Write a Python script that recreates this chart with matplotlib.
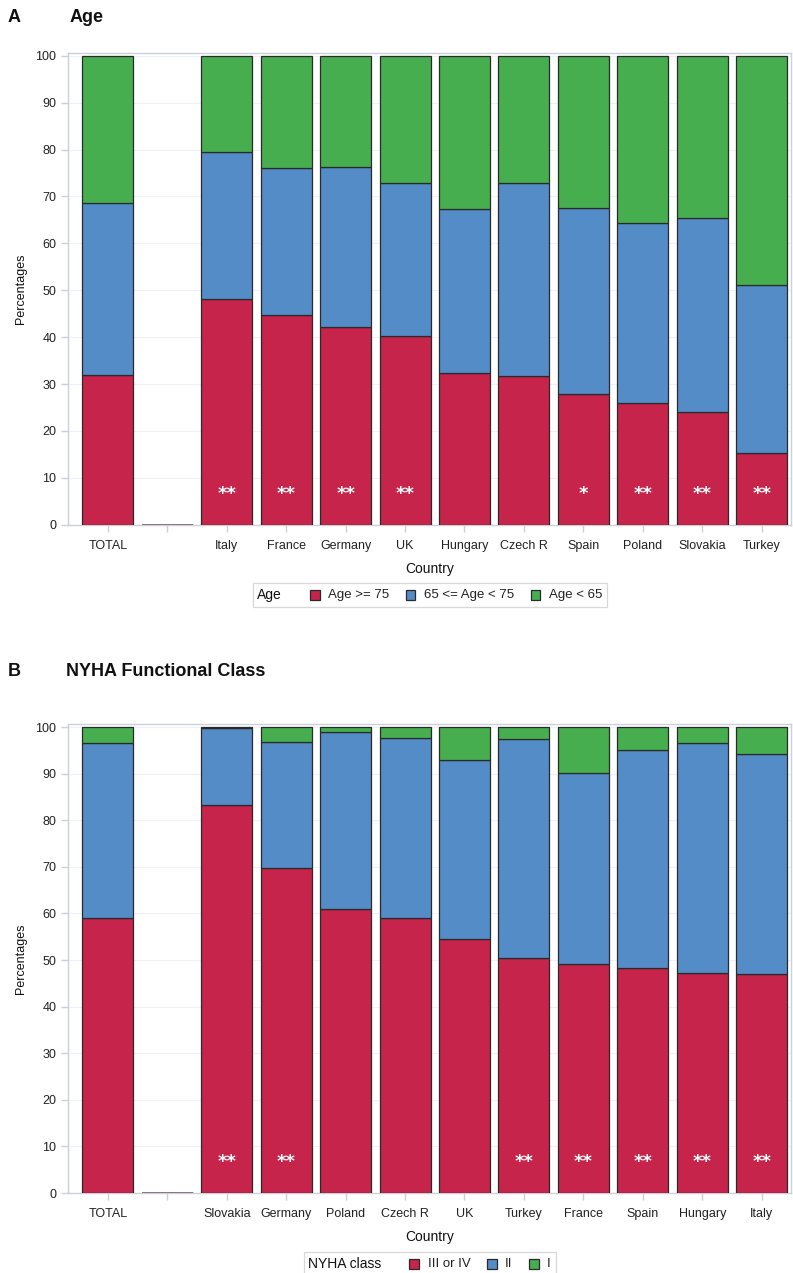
import matplotlib
matplotlib.use("Agg")
import matplotlib.pyplot as plt
from matplotlib.patches import Rectangle
from matplotlib.offsetbox import (AnchoredOffsetbox, TextArea, DrawingArea,
                                  HPacker)

plt.rcParams["font.family"] = ["Liberation Sans", "DejaVu Sans"]

# ---- Panel A: age groups by country (percent of patients) ----
age_countries = ["TOTAL", "", "Italy", "France", "Germany", "UK", "Hungary",
                 "Czech R", "Spain", "Poland", "Slovakia", "Turkey"]
age_75_plus = [31.9, 0, 48.1, 44.7, 42.2, 40.3, 32.3, 31.7, 27.8, 25.9, 24.0, 15.3]
age_65_75 = [36.6, 0, 31.4, 31.3, 34.0, 32.5, 35.1, 41.1, 39.8, 38.5, 41.4, 35.8]
age_under_65 = [31.5, 0, 20.5, 24.0, 23.8, 27.2, 32.6, 27.2, 32.4, 35.6, 34.6, 48.9]
age_signif = ["", "", "**", "**", "**", "**", "", "", "*", "**", "**", "**"]
age_labels = ["Age >= 75", "65 <= Age < 75", "Age < 65"]

# ---- Panel B: NYHA functional class by country (percent of patients) ----
nyha_countries = ["TOTAL", "", "Slovakia", "Germany", "Poland", "Czech R", "UK",
                  "Turkey", "France", "Spain", "Hungary", "Italy"]
nyha_3_4 = [59.0, 0, 83.2, 69.8, 60.9, 59.1, 54.6, 50.4, 49.2, 48.2, 47.3, 47.0]
nyha_2 = [37.5, 0, 16.5, 27.0, 38.0, 38.5, 38.3, 47.0, 41.0, 46.8, 49.3, 47.3]
nyha_1 = [3.5, 0, 0.3, 3.2, 1.1, 2.4, 7.1, 2.6, 9.8, 5.0, 3.4, 5.7]
nyha_signif = ["", "", "**", "**", "", "", "", "**", "**", "**", "**", "**"]
nyha_labels = ["III or IV", "II", "I"]

COLORS = ["#C6244A", "#538CC6", "#46AE4F"]
EDGE = "#2a2a2a"
SPINE = "#c9d1da"
GRID = "#eef2f7"

fig = plt.figure(figsize=(7.93, 12.73), dpi=100)


def legend_box(ax, title, labels, y_anchor):
    """Single-row legend with its title placed to the left of the entries."""
    entries = []
    for col, lab in zip(COLORS, labels):
        da = DrawingArea(7, 7, 0, 0)
        da.add_artist(Rectangle((0, 0), 7, 7, facecolor=col, edgecolor=EDGE,
                                linewidth=0.9))
        txt = TextArea(lab, textprops=dict(fontsize=9.5, color="#222222"))
        entries.append(HPacker(children=[da, txt], sep=6, align="center", pad=0))
    row = HPacker(children=entries, sep=12, align="center", pad=0)
    head = TextArea(title, textprops=dict(fontsize=10, color="#111111"))
    box = HPacker(children=[head, row], sep=20, align="center", pad=0)
    anch = AnchoredOffsetbox(loc="upper center", child=box, pad=0.35,
                             borderpad=0, frameon=True,
                             bbox_to_anchor=(0.5, y_anchor),
                             bbox_transform=ax.transAxes)
    anch.patch.set_edgecolor("#d8d8d8")
    anch.patch.set_linewidth(0.9)
    anch.patch.set_boxstyle("square", pad=0)
    ax.add_artist(anch)


def stacked_panel(rect, cats, series, labels, signif, legend_title, y_leg):
    ax = fig.add_axes(rect)
    x = list(range(len(cats)))
    bottom = [0.0] * len(cats)
    for vals, col, lab in zip(series, COLORS, labels):
        ax.bar(x, vals, width=0.86, bottom=bottom, color=col, edgecolor=EDGE,
               linewidth=0.9, label=lab, zorder=3)
        bottom = [b + v for b, v in zip(bottom, vals)]
    # placeholder slot drawn as a flat bar on the baseline
    for i, c in enumerate(cats):
        if c == "":
            ax.plot([i - 0.43, i + 0.43], [0, 0], color="#8a6a70", lw=1.2,
                    zorder=4, solid_capstyle="butt")
    for i, s in enumerate(signif):
        if s:
            ax.text(i, 6.6, s, color="white", ha="center", va="center",
                    fontsize=13, fontweight="bold", family="DejaVu Sans",
                    zorder=5)
    ax.set_xlim(-0.67, 11.5)
    ax.set_ylim(0, 100.6)
    ax.set_yticks(range(0, 101, 10))
    ax.set_xticks(x)
    ax.set_xticklabels(cats)
    ax.yaxis.grid(True, color=GRID, lw=0.8, zorder=0)
    ax.set_axisbelow(True)
    for sp in ax.spines.values():
        sp.set_color(SPINE)
        sp.set_linewidth(1.0)
    ax.tick_params(axis="both", colors=SPINE, labelcolor="#222222",
                   labelsize=9, length=5, width=1.0, direction="out")
    ax.tick_params(axis="x", pad=6)
    ax.set_xlabel("Country", fontsize=10, color="#111111", labelpad=7)
    ax.set_ylabel("Percentages", fontsize=9, color="#111111", labelpad=6)
    legend_box(ax, legend_title, labels, y_leg)
    return ax


ax_a = stacked_panel([0.0858, 0.5878, 0.9122, 0.3706], age_countries,
                     [age_75_plus, age_65_75, age_under_65], age_labels,
                     age_signif, "Age", -0.124)
ax_b = stacked_panel([0.0858, 0.0628, 0.9122, 0.3683], nyha_countries,
                     [nyha_3_4, nyha_2, nyha_1], nyha_labels,
                     nyha_signif, "NYHA class", -0.126)

fig.text(8 / 793, 1 - 18 / 1273, "A", fontsize=13, fontweight="bold",
         va="center", ha="left", color="#111111")
fig.text(70 / 793, 1 - 18 / 1273, "Age", fontsize=13, fontweight="bold",
         va="center", ha="left", color="#111111")
fig.text(8 / 793, 1 - 671 / 1273, "B", fontsize=13, fontweight="bold",
         va="center", ha="left", color="#111111")
fig.text(66 / 793, 1 - 671 / 1273, "NYHA Functional Class", fontsize=13,
         fontweight="bold", va="center", ha="left", color="#111111")

fig.savefig("out.png", dpi=100)
